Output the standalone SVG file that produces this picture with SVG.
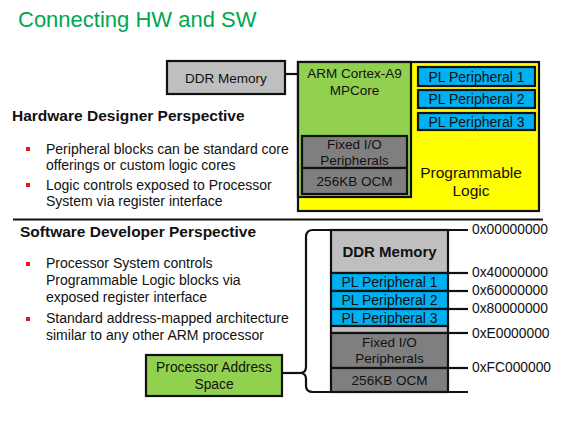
<svg xmlns="http://www.w3.org/2000/svg" width="562" height="421" viewBox="0 0 562 421">
<style>
text{font-family:"Liberation Sans",Arial,sans-serif;fill:#111}
.box{stroke:#111;stroke-width:2.2}
.g{fill:#92d050}.y{fill:#ffff00}.b{fill:#00b0f0}.lg{fill:#bfbfbf}.dg{fill:#7f7f7f}
.c{text-anchor:middle;font-size:13.5px}
.p{font-size:14px}
.h{font-size:15.5px;font-weight:bold}
.t{font-size:14px}
.a{font-size:13.8px}
.ln{stroke:#111;stroke-width:2.2;fill:none}
.bul{fill:#e8141e}
</style>
<rect width="562" height="421" fill="#fff"/>
<text id="title" x="18" y="27" font-size="22" style="fill:#00a651">Connecting HW and SW</text>

<g id="hw-text">
<text class="h" x="12" y="121">Hardware Designer Perspective</text>
<rect class="bul" x="26" y="147" width="4" height="4"/>
<text class="t" x="46" y="154">Peripheral blocks can be standard core</text>
<text class="t" x="46" y="170">offerings or custom logic cores</text>
<rect class="bul" x="26" y="183" width="4" height="4"/>
<text class="t" x="46" y="190">Logic controls exposed to Processor</text>
<text class="t" x="46" y="206">System via register interface</text>
</g>

<line class="ln" x1="13" y1="219.5" x2="543" y2="219.5"/>

<g id="sw-text">
<text class="h" x="20" y="237">Software Developer Perspective</text>
<rect class="bul" x="26" y="262" width="4" height="4"/>
<text class="t" x="46" y="268">Processor System controls</text>
<text class="t" x="46" y="285">Programmable Logic blocks via</text>
<text class="t" x="46" y="302">exposed register interface</text>
<rect class="bul" x="26" y="317" width="4" height="4"/>
<text class="t" x="46" y="323">Standard address-mapped architecture</text>
<text class="t" x="46" y="340">similar to any other ARM processor</text>
</g>

<g id="connectors">
<line class="ln" x1="285" y1="74" x2="298" y2="74"/>
<line class="ln" x1="411" y1="76" x2="418" y2="76"/>
<line class="ln" x1="411" y1="99" x2="418" y2="99"/>
<line class="ln" x1="411" y1="121" x2="418" y2="121"/>
<path class="ln" d="M331,230 L313,230 Q306,230 306,237 L306,367 Q306,373 300,373 Q306,373 306,379 L306,386 Q306,392 313,392 L331,392"/>
<line class="ln" x1="282" y1="373" x2="300" y2="373"/>
<g class="ln">
<line x1="331" y1="230" x2="468" y2="230"/>
<line x1="448" y1="273" x2="468" y2="273"/>
<line x1="448" y1="291" x2="468" y2="291"/>
<line x1="448" y1="309" x2="468" y2="309"/>
<line x1="448" y1="333" x2="468" y2="333"/>
<line x1="448" y1="368" x2="468" y2="368"/>
<line x1="331" y1="392" x2="468" y2="392"/>
</g>
</g>

<g id="ddr-top">
<rect class="box lg" x="167" y="61" width="118" height="33"/>
<text class="c" x="226" y="82.5">DDR Memory</text>
</g>

<g id="pl">
<rect class="box y" x="298" y="62" width="241" height="149"/>
<text class="c" x="471" y="178" style="font-size:15.5px">Programmable</text>
<text class="c" x="471" y="196" style="font-size:15.5px">Logic</text>
</g>

<g id="arm">
<rect class="box g" x="298" y="62" width="113" height="135"/>
<text class="c" x="354.5" y="78">ARM Cortex-A9</text>
<text class="c" x="354.5" y="95">MPCore</text>
</g>

<g id="fixedio-top">
<rect class="box dg" x="302" y="136" width="105" height="32"/>
<text class="c" x="354.5" y="149">Fixed I/O</text>
<text class="c" x="354.5" y="165">Peripherals</text>
</g>
<g id="ocm-top">
<rect class="box dg" x="302" y="168" width="105" height="26"/>
<text class="c" x="354.5" y="186">256KB OCM</text>
</g>

<g id="plp1-top">
<rect class="box b" x="418" y="67" width="117" height="19"/>
<text class="c p" x="476.5" y="81.5">PL Peripheral 1</text>
</g>
<g id="plp2-top">
<rect class="box b" x="418" y="90" width="117" height="18"/>
<text class="c p" x="476.5" y="104">PL Peripheral 2</text>
</g>
<g id="plp3-top">
<rect class="box b" x="418" y="113" width="117" height="17"/>
<text class="c p" x="476.5" y="126.5">PL Peripheral 3</text>
</g>

<g id="map-ddr">
<rect class="box lg" x="331" y="230" width="117" height="43"/>
<text class="c" x="389.5" y="257" style="font-size:15px;font-weight:bold">DDR Memory</text>
</g>
<g id="map-pl1">
<rect class="box b" x="331" y="273" width="117" height="18"/>
<text class="c p" x="389.5" y="287">PL Peripheral 1</text>
</g>
<g id="map-pl2">
<rect class="box b" x="331" y="291" width="117" height="18"/>
<text class="c p" x="389.5" y="305">PL Peripheral 2</text>
</g>
<g id="map-pl3">
<rect class="box b" x="331" y="309" width="117" height="17"/>
<text class="c p" x="389.5" y="322.5">PL Peripheral 3</text>
</g>
<g id="map-gap">
<rect class="box lg" x="331" y="326" width="117" height="7"/>
</g>
<g id="map-fixedio">
<rect class="box dg" x="331" y="333" width="117" height="35"/>
<text class="c" x="389.5" y="347">Fixed I/O</text>
<text class="c" x="389.5" y="363">Peripherals</text>
</g>
<g id="map-ocm">
<rect class="box dg" x="331" y="368" width="117" height="24"/>
<text class="c" x="389.5" y="385">256KB OCM</text>
</g>

<g id="addr-labels">
<text class="a" x="472" y="234">0x00000000</text>
<text class="a" x="472" y="277">0x40000000</text>
<text class="a" x="472" y="295">0x60000000</text>
<text class="a" x="472" y="313">0x80000000</text>
<text class="a" x="472" y="338">0xE0000000</text>
<text class="a" x="472" y="372">0xFC000000</text>
</g>

<g id="pas">
<rect class="box g" x="146" y="355" width="136" height="41"/>
<text class="c" x="214" y="372" style="font-size:13.8px">Processor Address</text>
<text class="c" x="214" y="389" style="font-size:13.8px">Space</text>
</g>
</svg>
